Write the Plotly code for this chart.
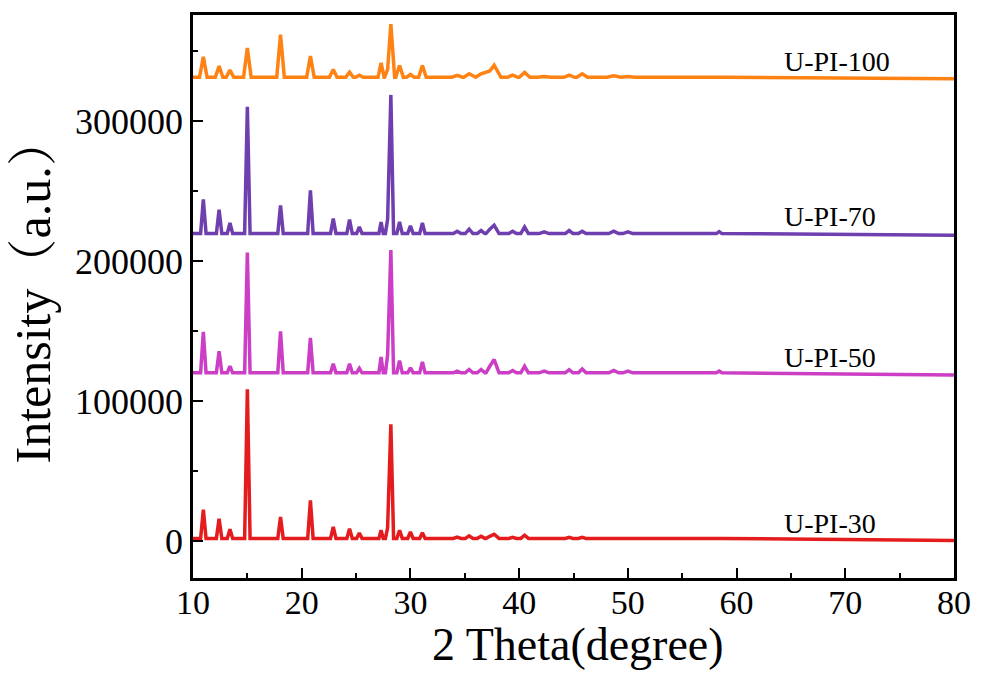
import plotly.graph_objects as go

# ---------------- data ----------------
sample_names = ["U-PI-30", "U-PI-50", "U-PI-70", "U-PI-100"]
line_colors = ["#E41C1E", "#CC3EC6", "#6F3FAF", "#FF8214"]

# common reflection positions (2 theta, degree)
peak_2theta = [10.95, 12.4, 13.4, 15.0, 18.05, 20.8, 22.9, 24.4, 25.3, 27.3,
               27.9, 28.2, 29.0, 30.0, 31.1, 34.3, 35.4, 36.5, 37.3, 37.7,
               39.4, 40.5, 42.3, 44.6, 45.8, 48.7, 50.0, 58.4]
peak_halfbase = [0.25, 0.25, 0.25, 0.25, 0.25, 0.25, 0.25, 0.25, 0.25, 0.2,
                 0.2, 0.25, 0.25, 0.25, 0.25, 0.35, 0.35, 0.35, 0.35, 0.45,
                 0.35, 0.35, 0.45, 0.35, 0.35, 0.45, 0.45, 0.25]

# apex intensities (offset as plotted)
apex_30 = [22500, 16100, 8500, 108500, 17300, 29100, 10200, 9000, 5900, 7800,
           9500, 83600, 7800, 6600, 6100, 3000, 3800, 3500, 3500, 5000,
           2800, 4300, 2500, 2800, 2800, 2600, 2500, 2600]
apex_50 = [149500, 135700, 125100, 206300, 150000, 145200, 126700, 126700, 123500, 131700,
           133000, 208000, 129100, 123900, 128100, 121500, 122700, 122700, 125000, 129800,
           122000, 125000, 121500, 122500, 123000, 122000, 121500, 121500]
apex_70 = [244300, 236900, 227400, 310400, 240000, 250700, 230500, 229800, 224600, 228100,
           230000, 318900, 228100, 225300, 227400, 221500, 223000, 222000, 223000, 225800,
           221500, 224500, 221000, 222000, 221500, 221500, 221000, 221200]
apex_100 = [346100, 339500, 336600, 352500, 362000, 346600, 337100, 335200, 333000, 341800,
            337000, 369500, 339900, 333500, 339900, 332800, 334000, 334000, 336000, 340200,
            333000, 335000, 332000, 333000, 334000, 332500, 332000, 331500]

baseline_start = [2000, 120300, 219800, 331500]
baseline_end = [500, 118700, 218700, 330500]
label_y = [12800, 131500, 231700, 342500]
breadth = [1.0, 1.0, 1.0, 1.4]

x_ticks = [10, 20, 30, 40, 50, 60, 70, 80]
y_ticks = [0, 100000, 200000, 300000]

all_apex = [apex_30, apex_50, apex_70, apex_100]


def build_profile(apex, base0, base1, k):
    xs, ys, is_foot = [10.0], [base0], [True]
    for p, h, w in zip(peak_2theta, apex, peak_halfbase):
        w = w * k
        left = p - w
        if is_foot[-1] and xs[-1] >= left and len(xs) > 1:
            xs.pop(); ys.pop(); is_foot.pop()
        elif left > xs[-1]:
            xs.append(left); ys.append(base0); is_foot.append(True)
        xs.append(p); ys.append(h); is_foot.append(False)
        xs.append(p + w); ys.append(base0); is_foot.append(True)
    xs.append(80.0); ys.append(base1); is_foot.append(True)
    return xs, ys


fig = go.Figure()
for name, col, apex, b0, b1, k in zip(sample_names, line_colors, all_apex,
                                      baseline_start, baseline_end, breadth):
    xs, ys = build_profile(apex, b0, b1, k)
    fig.add_trace(go.Scatter(x=xs, y=ys, mode="lines", name=name,
                             line=dict(color=col, width=3.5), showlegend=False))

serif = "Times New Roman, Liberation Serif, Noto Serif CJK SC, Noto Sans CJK SC, serif"

for name, ly in zip(sample_names, label_y):
    fig.add_annotation(x=64.2, y=ly, text=name, showarrow=False,
                       xanchor="left", yanchor="middle",
                       font=dict(family=serif, size=28, color="black"))

fig.add_annotation(xref="paper", yref="paper", x=-0.21, y=0.511,
                   text="Intensity（a.u.）", textangle=-90, showarrow=False,
                   xanchor="center", yanchor="middle",
                   font=dict(family=serif, size=50, color="black"))
fig.add_annotation(xref="paper", yref="paper", x=0.506, y=-0.118,
                   text="2 Theta(degree)", showarrow=False,
                   xanchor="center", yanchor="middle",
                   font=dict(family=serif, size=46, color="black"))

fig.update_layout(
    width=983, height=680,
    margin=dict(l=193, r=23, t=12, b=102),
    paper_bgcolor="white", plot_bgcolor="white",
    font=dict(family=serif, color="black"),
)
fig.update_xaxes(range=[10, 80], tickvals=x_ticks, ticks="inside", ticklen=10,
                 tickwidth=2, tickcolor="black", showline=True, linewidth=2.5,
                 linecolor="black", mirror=True, showgrid=False, zeroline=False,
                 ticklabelstandoff=-8,
                 tickfont=dict(family=serif, size=34, color="black"),
                 minor=dict(dtick=5, ticks="inside", ticklen=5, tickwidth=2,
                            tickcolor="black", showgrid=False))
fig.update_yaxes(range=[-26300, 376000], tickvals=y_ticks, tickformat="d",
                 ticks="inside", ticklen=10, tickwidth=2, tickcolor="black",
                 showline=True, linewidth=2.5, linecolor="black", mirror=True,
                 showgrid=False, zeroline=False,
                 tickfont=dict(family=serif, size=36, color="black"),
                 minor=dict(dtick=50000, ticks="inside", ticklen=5, tickwidth=2,
                            tickcolor="black", showgrid=False))

fig.write_html("out.html")
